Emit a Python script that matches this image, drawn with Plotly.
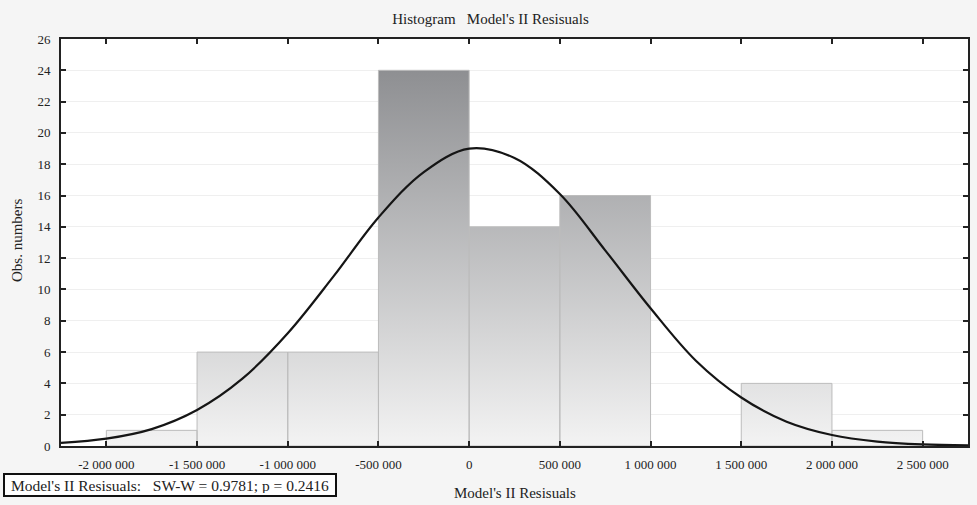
import plotly.graph_objects as go

# ---- data ----
bin_left = [-2000000, -1500000, -1000000, -500000, 0, 500000, 1000000, 1500000, 2000000]
bin_width = 500000
counts = [1, 6, 6, 24, 14, 16, 0, 4, 1]

curve_x = [-2250000, -2000000, -1750000, -1500000, -1250000, -1000000, -750000, -500000,
           -250000, 0, 250000, 500000, 750000, 1000000, 1250000, 1500000, 1750000,
           2000000, 2250000, 2500000, 2750000]
curve_y = [0.2, 0.47, 1.08, 2.3, 4.3, 7.2, 10.8, 14.6,
           17.5, 19.0, 18.4, 16.1, 12.5, 8.8, 5.45, 3.1, 1.55,
           0.7, 0.28, 0.1, 0.04]

x_tickvals = [-2000000, -1500000, -1000000, -500000, 0, 500000, 1000000, 1500000, 2000000, 2500000]
x_ticktext = ["-2 000 000", "-1 500 000", "-1 000 000", "-500 000", "0",
              "500 000", "1 000 000", "1 500 000", "2 000 000", "2 500 000"]
y_tickvals = list(range(0, 27, 2))

title_text = "Histogram   Model's II Resisuals"
x_title = "Model's II Resisuals"
y_title = "Obs. numbers"
stat_text = "Model's II Resisuals:   SW-W = 0.9781; p = 0.2416"

FONT = "Liberation Serif, Times New Roman, serif"
INK = "#222222"

# build bar polygons from bins
px, py = [], []
for left, c in zip(bin_left, counts):
    if c <= 0:
        continue
    right = left + bin_width
    px += [left, left, right, right, left, None]
    py += [0, c, c, 0, 0, None]

fig = go.Figure()
fig.add_trace(go.Scatter(
    x=px, y=py, mode="lines", fill="toself",
    line=dict(color="#bcbcbc", width=1),
    fillgradient=dict(type="vertical",
                      colorscale=[[0, "#f3f3f3"], [1, "#8e8f92"]],
                      start=0, stop=24),
    hoverinfo="skip", showlegend=False,
))
fig.add_trace(go.Scatter(
    x=curve_x, y=curve_y, mode="lines",
    line=dict(color="#151515", width=2.2, shape="spline", smoothing=1.0),
    showlegend=False,
))

fig.update_layout(
    width=977, height=505,
    margin=dict(l=61, r=9, t=39, b=59),
    paper_bgcolor="#f5f5f5",
    plot_bgcolor="#ffffff",
    font=dict(family=FONT, size=13, color=INK),
    title=dict(text=title_text, x=490.5 / 977, xanchor="center", xref="container",
               y=1 - 19 / 505, yanchor="middle", yref="container",
               font=dict(family=FONT, size=15, color=INK)),
)
fig.update_xaxes(
    range=[-2250000, 2750000], automargin=False,
    tickvals=x_tickvals, ticktext=x_ticktext,
    ticks="inside", ticklen=5, tickwidth=2, tickcolor=INK,
    showline=True, linecolor=INK, linewidth=2, mirror="allticks",
    showgrid=False, zeroline=False, ticklabelstandoff=5,
    tickfont=dict(family=FONT, size=13, color=INK),
)
fig.update_yaxes(
    range=[0, 26], automargin=False,
    tickvals=y_tickvals,
    ticks="inside", ticklen=5, tickwidth=2, tickcolor=INK,
    showline=True, linecolor=INK, linewidth=2, mirror="allticks",
    showgrid=True, gridcolor="#efefef", gridwidth=1, zeroline=False, ticklabelstandoff=6,
    tickfont=dict(family=FONT, size=13, color=INK),
)
# axis titles
fig.add_annotation(
    text=x_title, xref="paper", yref="paper",
    x=(515 - 61) / 907, xanchor="center", y=(446 - 493) / 407, yanchor="middle",
    showarrow=False, font=dict(family=FONT, size=15, color=INK),
)
fig.add_annotation(
    text=y_title, xref="paper", yref="paper", textangle=-90,
    x=(17 - 61) / 907, xanchor="center", y=(446 - 241) / 407, yanchor="middle",
    showarrow=False, font=dict(family=FONT, size=15, color=INK),
)
fig.add_annotation(
    text=stat_text, xref="paper", yref="paper",
    x=(3 - 61) / 907, xanchor="left", y=(446 - 485) / 407, yanchor="middle",
    width=326, height=16, align="center", valign="middle",
    showarrow=False, bgcolor="#ffffff", bordercolor="#111111", borderwidth=2, borderpad=2,
    font=dict(family=FONT, size=15.5, color=INK),
)

fig.write_html("out.html",
               config={"displayModeBar": False},
               post_script="document.body.style.margin='0';document.body.style.padding='0';")
